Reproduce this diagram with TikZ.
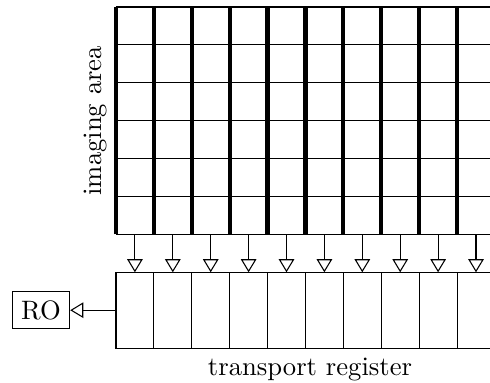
\documentclass[tikz,border=0pt]{standalone}
\usetikzlibrary{arrows.meta}
\begin{document}
\begin{tikzpicture}[x=0.5cm,y=0.5cm,
  cellline/.style={line width=0.4pt},
  column/.style={line width=1.6pt},
  shiftarrow/.style={line width=0.4pt,-{Triangle[open,length=4.9pt,width=5.8pt]}},
  outbox/.style={draw,line width=0.4pt}]
  \useasboundingbox (-3.06,-3.897) rectangle (9.869,6.185);
  \clip (-3.06,-3.897) rectangle (9.869,6.185);
  % imaging area: rows of pixels, thick column separators
  \foreach \r in {0,...,6}
    \draw[cellline] (0,\r) -- (11,\r);
  \foreach \c in {0,...,10}
    \draw[column] (\c,0) -- (\c,6);
  \coordinate (imgw) at (0,3);
  \node[rotate=90,anchor=south] (imglabel) at (imgw) {imaging area};
  % transport register
  \draw[cellline] (11,-3) -- (0,-3) -- (0,-1) -- (11,-1);
  \foreach \c in {1,...,10}
    \draw[cellline] (\c,-3) -- (\c,-1);
  \node[anchor=north] (reglabel) at (5.12,-3) {transport register};
  % charge transfer from each column into the register
  \foreach \c in {0,...,9} {
    \coordinate (top\c) at (\c+0.5,0);
    \coordinate (bot\c) at (\c+0.5,-1);
    \draw[shiftarrow] (top\c) -- (bot\c);
  }
  % readout
  \coordinate (regw) at (0,-2);
  \node[outbox] (ro) at (-1.978,-2) {RO};
  \draw[shiftarrow] (regw) -- (ro.east);
\end{tikzpicture}
\end{document}
